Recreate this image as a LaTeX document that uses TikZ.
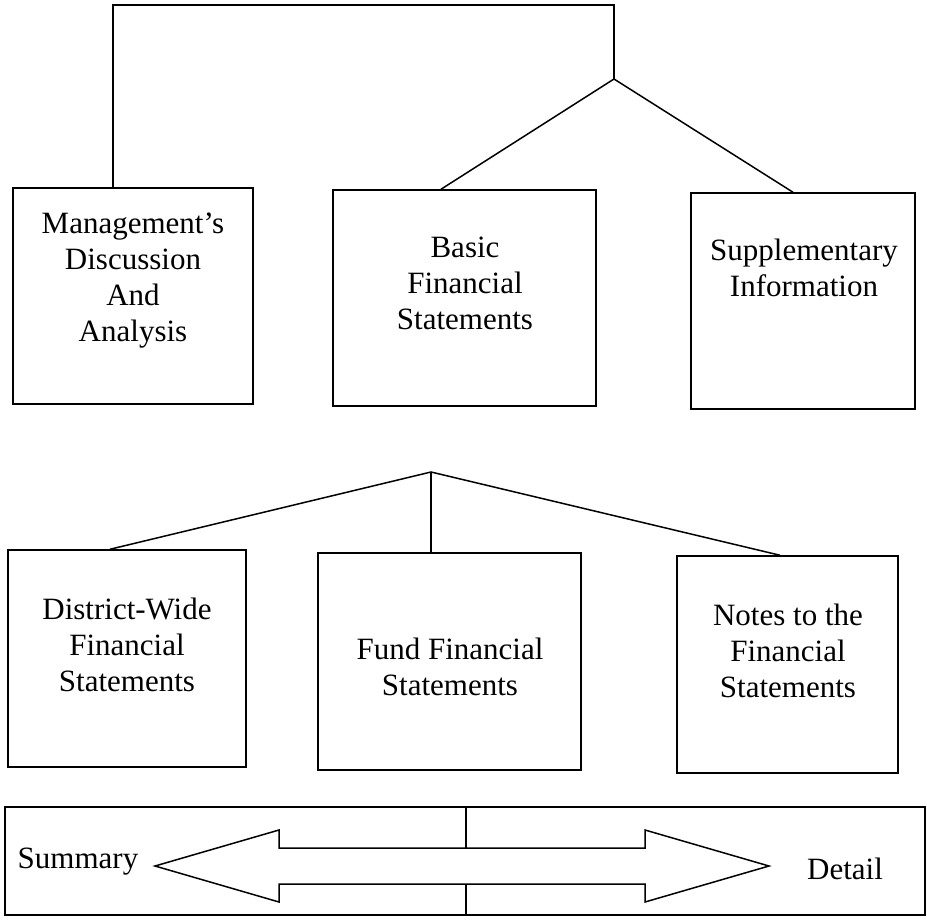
\documentclass[tikz,border=0pt]{standalone}
\usepackage{fontspec}
\setmainfont{Liberation Serif}
\begin{document}
\begin{tikzpicture}[x=1pt,y=-1pt,
  box/.style={draw, line width=1.5pt, inner sep=0pt},
  txt/.style={align=center, font=\fontsize{31}{36}\selectfont, inner sep=0pt},
  conn/.style={line width=1.5pt}]
\useasboundingbox (0,0) rectangle (927,921);
% top row boxes
\node[box, minimum width=240pt, minimum height=216pt] (mda) at (133,296) {};
\node[box, minimum width=263pt, minimum height=216pt] (bfs) at (464.5,298) {};
\node[box, minimum width=224pt, minimum height=216pt] (sup) at (803,301) {};
% bottom row boxes
\node[box, minimum width=238pt, minimum height=217pt] (dw) at (127,658.5) {};
\node[box, minimum width=263pt, minimum height=217pt] (fund) at (449.5,661.5) {};
\node[box, minimum width=221pt, minimum height=217pt] (notes) at (787.5,664.5) {};
% bar
\node[box, minimum width=920pt, minimum height=108pt] (bar) at (465,861) {};
% texts
\node[txt] (t1) at (133,281) {Management’s\\Discussion\\And\\Analysis};
\node[txt] (t2) at (465,283) {Basic\\Financial\\Statements};
\node[txt] (t3) at (804,268) {Supplementary\\Information};
\node[txt] (t4) at (127,645) {District-Wide\\Financial\\Statements};
\node[txt] (t5) at (450,667) {Fund Financial\\Statements};
\node[txt] (t6) at (788,651) {Notes to the\\Financial\\Statements};
\node[txt] (summary) at (78,862) {Summary};
\node[txt] (detail) at (845,869) {Detail};
% connectors
\coordinate (top1) at (614,79);
\coordinate (cornerR) at (614,5);
\draw[conn] ([xshift=-20pt]mda.north) |- (cornerR) -- (top1);
\draw[conn] ([xshift=-23.5pt]bfs.north) -- (top1) -- ([xshift=-10pt]sup.north);
\coordinate (top2) at (431,472);
\draw[conn] ([xshift=-17pt]dw.north) -- (top2) -- ([xshift=-7.5pt]notes.north);
\draw[conn] (top2) -- (fund.north -| top2);
% divider and arrow
\coordinate (div) at (466,861);
\draw[conn] (bar.north -| div) -- (bar.south -| div);
\draw[box, fill=white, line join=miter] (155,866) -- (279,830) -- (279,848) -- (645,848) -- (645,830) -- (769,866) -- (645,902) -- (645,884) -- (279,884) -- (279,902) -- cycle;
\end{tikzpicture}
\end{document}
